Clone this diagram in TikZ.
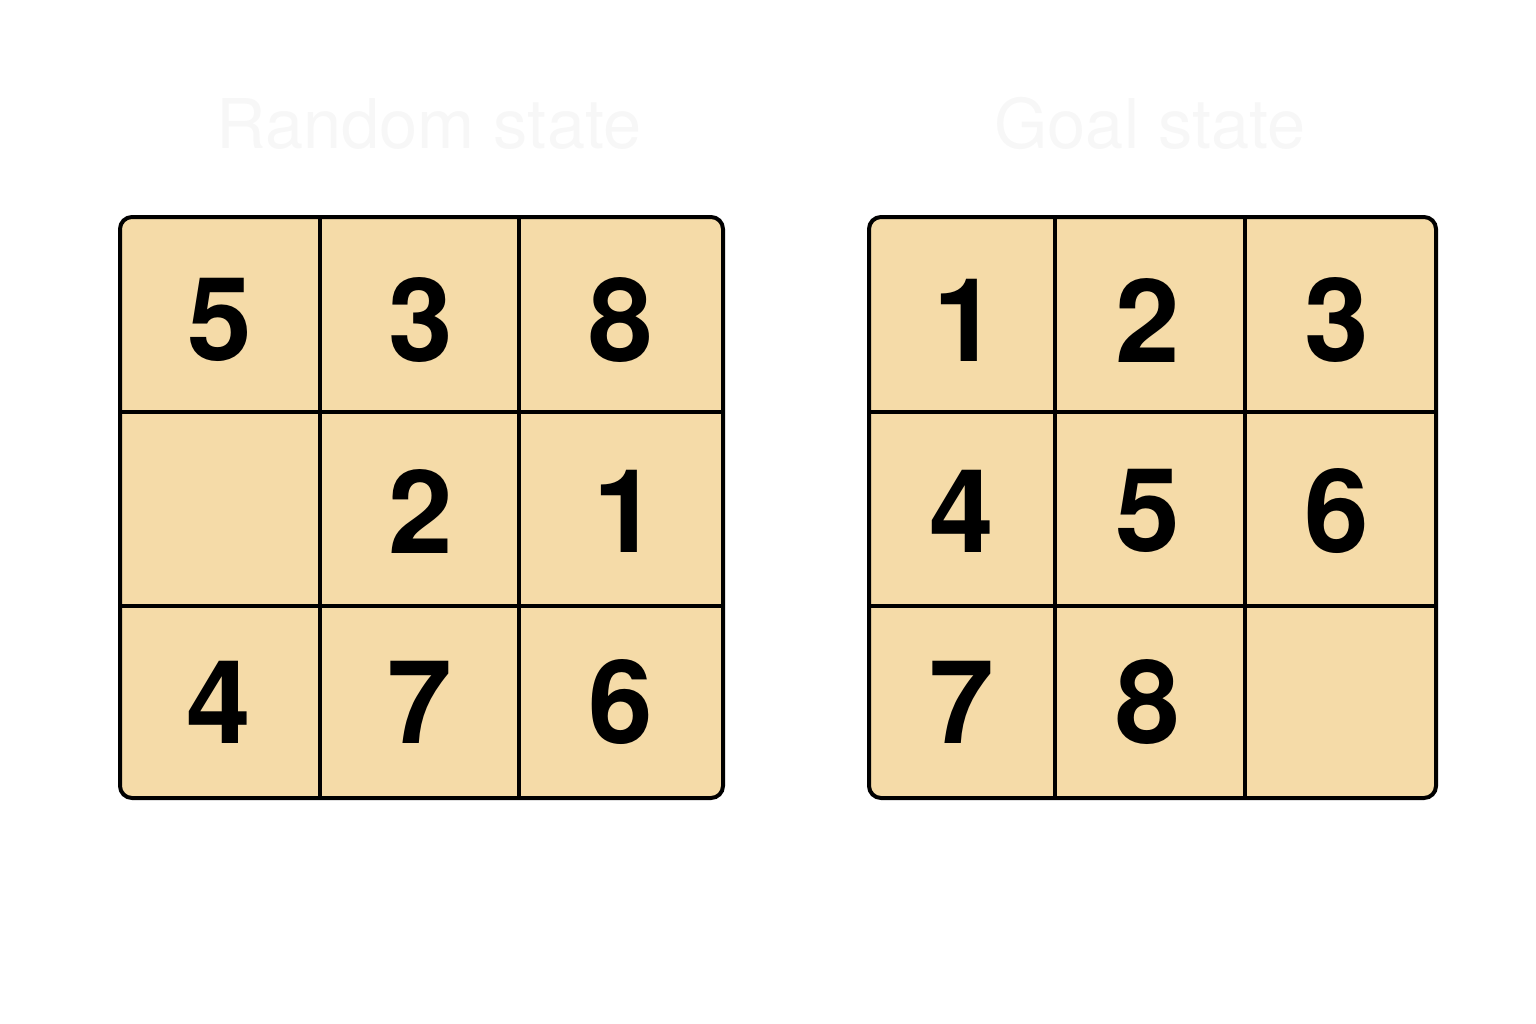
\documentclass[tikz,border=0pt]{standalone}
\usepackage{fontspec}
\setmainfont{TeX Gyre Heros}
\definecolor{tile}{HTML}{F5DBA8}
\definecolor{titlegray}{HTML}{F7F7F7}
\tikzset{board/.style={draw, line width=0.04cm, fill=tile, rounded corners=0.12cm}}
\tikzset{grid/.style={draw, line width=0.032cm}}
\tikzset{num/.style={font=\fontsize{33}{33}\selectfont\bfseries, inner sep=0pt}}
\tikzset{head/.style={font=\fontsize{19.5}{19.5}\selectfont, text=titlegray, inner sep=0pt}}

\begin{document}
\begin{tikzpicture}[x=0.01cm, y=-0.01cm]
\useasboundingbox (0,0) rectangle (1536,1024);

% titles
\node[head] (tl) at (429,124) {Random state};
\node[head] (tr) at (1150,124) {Goal state};

% left board
\draw[board] (120,217) rectangle (723,798);
\draw[grid] (320,217) -- (320,798) (519,217) -- (519,798)
 (120,412) -- (723,412) (120,606) -- (723,606);

% right board
\draw[board] (869,217) rectangle (1436,798);
\draw[grid] (1055,217) -- (1055,798) (1245,217) -- (1245,798)
 (869,412) -- (1436,412) (869,606) -- (1436,606);

% tiles
\foreach \n/\x/\y/\t in {a1/220/320/5, a2/421/320/3, a3/621/320/8,
 a5/421/511/2, a6/626/511/1,
 a7/219/702/4, a8/420/702/7, a9/621/702/6}
 \node[num] (\n) at (\x,\y) {\t};
\foreach \n/\x/\y/\t in {b1/966/320/1, b2/1148/320/2, b3/1337/320/3,
 b4/962/511/4, b5/1148/511/5, b6/1337/511/6,
 b7/962/702/7, b8/1148/702/8}
 \node[num] (\n) at (\x,\y) {\t};
\end{tikzpicture}
\end{document}
